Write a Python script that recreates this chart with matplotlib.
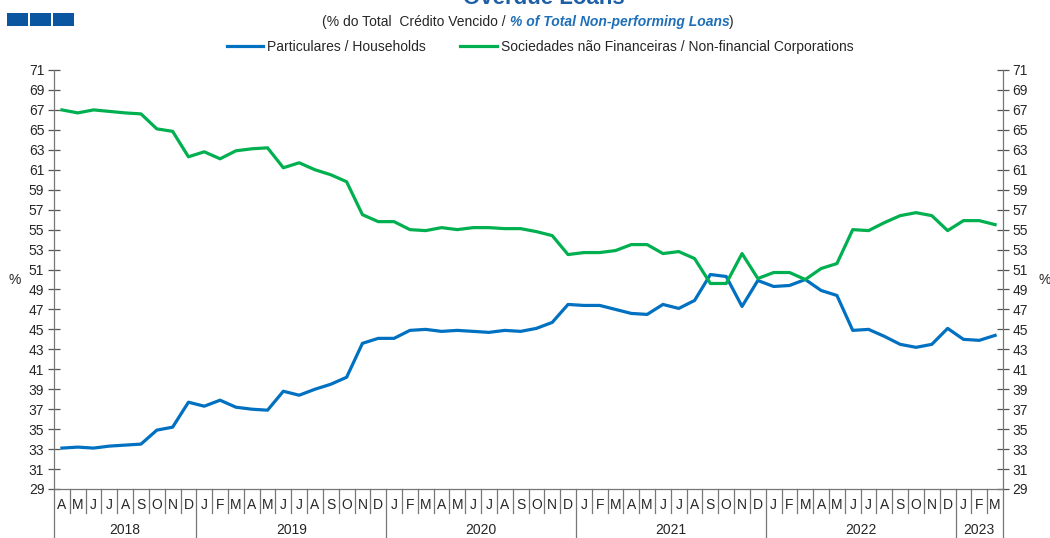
import numpy as np
import matplotlib
matplotlib.use('Agg')
import matplotlib.pyplot as plt
from matplotlib.patches import Rectangle

plt.rcParams['font.family'] = ['Liberation Sans', 'DejaVu Sans']

# Monthly data, April 2018 - March 2023 (% of total non-performing loans)
households = [33.1, 33.2, 33.1, 33.3, 33.4, 33.5, 34.9, 35.2, 37.7, 37.3,
              37.9, 37.2, 37.0, 36.9, 38.8, 38.4, 39.0, 39.5, 40.2, 43.6,
              44.1, 44.1, 44.9, 45.0, 44.8, 44.9, 44.8, 44.7, 44.9, 44.8,
              45.1, 45.7, 47.5, 47.4, 47.4, 47.0, 46.6, 46.5, 47.5, 47.1,
              47.9, 50.5, 50.3, 47.3, 49.9, 49.3, 49.4, 50.0, 48.9, 48.4,
              44.9, 45.0, 44.3, 43.5, 43.2, 43.5, 45.1, 44.0, 43.9, 44.4]
corporations = [67.0, 66.7, 67.0, 66.85, 66.7, 66.6, 65.1, 64.85, 62.3, 62.8,
                62.1, 62.9, 63.1, 63.2, 61.2, 61.7, 61.0, 60.5, 59.8, 56.5,
                55.8, 55.8, 55.0, 54.9, 55.2, 55.0, 55.2, 55.2, 55.1, 55.1,
                54.8, 54.4, 52.5, 52.7, 52.7, 52.9, 53.5, 53.5, 52.6, 52.8,
                52.1, 49.6, 49.6, 52.6, 50.1, 50.7, 50.7, 50.0, 51.1, 51.6,
                55.0, 54.9, 55.7, 56.4, 56.7, 56.4, 54.9, 55.9, 55.9, 55.5]

months = ['J', 'F', 'M', 'A', 'M', 'J', 'J', 'A', 'S', 'O', 'N', 'D']
years = ['2018', '2019', '2020', '2021', '2022', '2023']
months_per_year = [9, 12, 12, 12, 12, 3]
month_labels = months[3:] + months * 4 + months[:3]

BLUE = '#0070C0'
GREEN = '#00B050'
TXT = '#262626'
FS = 10

fig = plt.figure(figsize=(10.5, 5.38), dpi=100)
ax = fig.add_axes([54 / 1050, 49 / 538, 949 / 1050, 419 / 538])

x = np.arange(len(households))
l1, = ax.plot(x, households, color=BLUE, lw=2.3, label='Particulares / Households')
l2, = ax.plot(x, corporations, color=GREEN, lw=2.3,
              label='Sociedades não Financeiras / Non-financial Corporations')

ax.set_xlim(-0.5, len(x) - 0.5)
ax.set_ylim(29, 71)
ax.set_yticks(np.arange(29, 72, 2))
ax.tick_params(axis='y', direction='inout', length=8, width=0.9, colors='#555555',
               labelcolor=TXT, labelsize=FS, left=True, right=True,
               labelleft=True, labelright=True, pad=3)
ax.set_xticks([])
ax.spines['top'].set_visible(False)
for s in ['left', 'right', 'bottom']:
    ax.spines[s].set_color('#777777')
    ax.spines[s].set_linewidth(0.9)

# month cells and year groups under the axis
trans = ax.get_xaxis_transform()
h_month = 24 / 419
h_year = 49 / 419
for i, lab in enumerate(month_labels):
    ax.text(i, -16 / 419, lab, transform=trans, ha='center', va='center',
            fontsize=FS, color=TXT)
year_edges = np.concatenate([[0], np.cumsum(months_per_year)])
for k in range(len(x) + 1):
    depth = h_year if k in year_edges else h_month
    ax.plot([k - 0.5, k - 0.5], [0, -depth], transform=trans, color='#777777',
            lw=0.9, clip_on=False)
for j, yr in enumerate(years):
    mid = (year_edges[j] + year_edges[j + 1] - 1) / 2
    ax.text(mid, -41 / 419, yr, transform=trans, ha='center', va='center',
            fontsize=FS, color=TXT)

# % unit labels
fig.text(15 / 1050, 1 - 280 / 538, '%', ha='center', va='center', fontsize=FS, color=TXT)
fig.text(1045 / 1050, 1 - 280 / 538, '%', ha='center', va='center', fontsize=FS, color=TXT)

# title (cut at top edge as in the source), subtitle and decoration
fig.text(544 / 1050, 1 - 4 / 538, 'Overdue Loans', ha='center', va='baseline',
         fontsize=16, fontweight='bold', color='#1F5FA6')
for k in range(3):
    fig.patches.append(Rectangle(((7 + k * 23) / 1050, 1 - 26 / 538), 21 / 1050, 13 / 538,
                                 transform=fig.transFigure, facecolor='#0B56A0',
                                 edgecolor='none'))
t1 = fig.text(322 / 1050, 1 - 22 / 538, '(% do Total  Crédito Vencido / ', ha='left',
              va='center', fontsize=FS, color=TXT)
a2 = ax.annotate('% of Total Non-performing Loans', xy=(1, 0.5), xycoords=t1,
                 ha='left', va='center', fontsize=FS, color='#1F6FB8',
                 style='italic', fontweight='bold')
ax.annotate(')', xy=(1, 0.5), xycoords=a2, ha='left', va='center', fontsize=FS, color=TXT)

fig.legend(handles=[l1, l2], loc='center', bbox_to_anchor=(540 / 1050, 1 - 47 / 538),
           ncol=2, frameon=False, fontsize=FS, handlelength=2.6, columnspacing=2.5,
           handletextpad=0.3, labelcolor=TXT)

fig.savefig('out.png', dpi=100)
